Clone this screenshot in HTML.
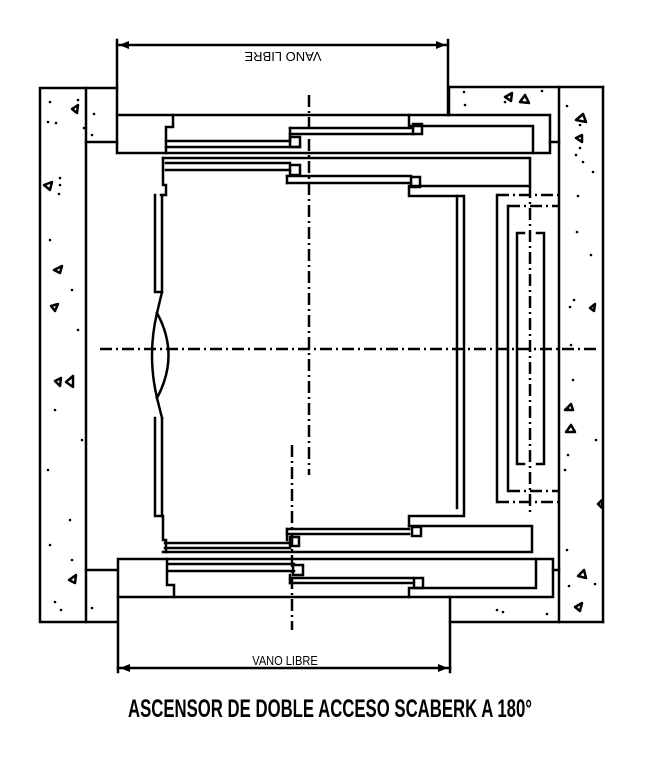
<!DOCTYPE html>
<html><head><meta charset="utf-8"><style>
html,body{margin:0;padding:0;background:#fff;}
svg{display:block;}
</style></head><body>
<svg width="657" height="760" viewBox="0 0 657 760" xmlns="http://www.w3.org/2000/svg">
<g fill="none" stroke="#000" stroke-width="2.5" stroke-linecap="square">
<!-- left wall -->
<rect x="40" y="88" width="46" height="534"/>
<line x1="86" y1="142" x2="117" y2="142"/>
<line x1="86" y1="570" x2="117" y2="570"/>
<line x1="86" y1="88" x2="117" y2="88"/>
<line x1="86" y1="622" x2="117" y2="622"/>
<!-- right wall -->
<line x1="449" y1="87" x2="603" y2="87"/>
<line x1="603" y1="87" x2="603" y2="622"/>
<line x1="559" y1="87" x2="559" y2="622"/>
<line x1="449" y1="87" x2="449" y2="115"/>
<line x1="450" y1="622" x2="603" y2="622"/>
<line x1="550" y1="142" x2="559" y2="142"/>
<line x1="553" y1="570" x2="559" y2="570"/>
<!-- top dimension -->
<line x1="117" y1="40" x2="117" y2="115"/>
<line x1="448" y1="40" x2="448" y2="115"/>
<line x1="117" y1="45" x2="448" y2="45"/>
<!-- top landing rect -->
<rect x="117" y="115" width="433" height="38"/>
<polyline points="173,115 173,127 166,127 166,153"/>
<polyline points="409,115 409,126 533,126 533,153"/>
<line x1="166" y1="141" x2="290" y2="141"/>
<line x1="166" y1="147" x2="300" y2="147"/>
<rect x="290" y="137" width="10" height="10"/>
<line x1="290" y1="128" x2="413" y2="128"/>
<line x1="290" y1="134" x2="413" y2="134"/>
<line x1="290" y1="128" x2="290" y2="141"/>
<rect x="413" y="124" width="9" height="10"/>
<!-- top car door assembly -->
<polyline points="163,158 530,158 530,186 412,186"/>
<polyline points="163,158 163,185 166,185 166,195 161,195"/>
<line x1="166" y1="163" x2="290" y2="163"/>
<line x1="166" y1="170" x2="290" y2="170"/>
<rect x="290" y="165" width="10" height="10"/>
<line x1="287" y1="176" x2="411" y2="176"/>
<line x1="287" y1="183" x2="411" y2="183"/>
<line x1="287" y1="176" x2="287" y2="183"/>
<rect x="411" y="177" width="9" height="10"/>
<polyline points="409,186 409,196 457,196 457,508"/>
<polyline points="457,196 464,196 464,516 409,516 409,526"/>
<!-- car left wall -->
<polyline points="155,195 155,292 162,292 162,195"/>
<polyline points="162,292 157,313"/>
<path d="M157,313 Q147,355 157,398"/>
<path d="M157,313 Q180,355 157,398"/>
<polyline points="157,398 162,418"/>
<polyline points="155,418 155,516 162,516 162,418"/>
<!-- bottom car assembly -->
<polyline points="162,516 163,516 163,540 166,540 166,552"/>
<polyline points="409,526 532,526 532,552 163,552"/>
<line x1="287" y1="529" x2="409" y2="529"/>
<line x1="287" y1="534" x2="409" y2="534"/>
<line x1="287" y1="529" x2="287" y2="540"/>
<rect x="412" y="527" width="9" height="9"/>
<line x1="165" y1="543" x2="290" y2="543"/>
<line x1="165" y1="548" x2="290" y2="548"/>
<rect x="290" y="537" width="9" height="9"/>
<!-- bottom landing rect -->
<rect x="118" y="559" width="435" height="38"/>
<polyline points="167,559 167,585 174,585 174,597"/>
<polyline points="409,597 409,588 536,588 536,559"/>
<line x1="168" y1="564" x2="294" y2="564"/>
<line x1="168" y1="571" x2="294" y2="571"/>
<rect x="293" y="565" width="10" height="10"/>
<line x1="290" y1="578" x2="413" y2="578"/>
<line x1="290" y1="583" x2="413" y2="583"/>
<line x1="290" y1="575" x2="290" y2="583"/>
<rect x="414" y="578" width="9" height="10"/>
<!-- bottom dimension -->
<line x1="118" y1="597" x2="118" y2="672"/>
<line x1="450" y1="597" x2="450" y2="672"/>
<line x1="118" y1="668" x2="450" y2="668"/>
<!-- counterweight -->
<line x1="497" y1="195" x2="497" y2="502"/>
<line x1="508" y1="206" x2="508" y2="491"/>
<polyline points="524,233 517,233 517,464 524,464"/>
<polyline points="537,233 544,233 544,464 537,464"/>
</g>
<g fill="none" stroke="#000" stroke-width="2.5" stroke-dasharray="12,4,2,4">
<line x1="497" y1="195" x2="559" y2="195"/>
<line x1="497" y1="502" x2="559" y2="502"/>
<line x1="508" y1="206" x2="559" y2="206"/>
<line x1="508" y1="491" x2="559" y2="491"/>
<line x1="530" y1="186" x2="530" y2="512"/>
<line x1="100" y1="349" x2="600" y2="349"/>
<line x1="309" y1="95" x2="309" y2="475"/>
<line x1="292" y1="445" x2="292" y2="630"/>
</g>
<!-- arrows -->
<g fill="#000">
<polygon points="119,45 129,41 129,49"/>
<polygon points="446,45 436,41 436,49"/>
<polygon points="120,668 130,664 130,672"/>
<polygon points="448,668 438,664 438,672"/>
</g>
<!-- concrete hatch -->
<g fill="#000">
<circle cx="50" cy="102" r="1.3"/><circle cx="78" cy="100" r="1.3"/><circle cx="48" cy="122" r="1.3"/><circle cx="56" cy="123" r="1.3"/><circle cx="94" cy="114" r="1.3"/><circle cx="84" cy="128" r="1.3"/><circle cx="92" cy="135" r="1.3"/><circle cx="60" cy="178" r="1.3"/><circle cx="60" cy="185" r="1.3"/><circle cx="59" cy="194" r="1.3"/><circle cx="50" cy="240" r="1.3"/><circle cx="72" cy="290" r="1.3"/><circle cx="78" cy="330" r="1.3"/><circle cx="55" cy="410" r="1.3"/><circle cx="82" cy="440" r="1.3"/><circle cx="48" cy="470" r="1.3"/><circle cx="70" cy="520" r="1.3"/><circle cx="50" cy="545" r="1.3"/><circle cx="72" cy="560" r="1.3"/><circle cx="92" cy="608" r="1.3"/><circle cx="61" cy="610" r="1.3"/><circle cx="55" cy="602" r="1.3"/>
<circle cx="464" cy="92" r="1.3"/><circle cx="465" cy="105" r="1.3"/><circle cx="505" cy="102" r="1.3"/><circle cx="542" cy="91" r="1.3"/><circle cx="567" cy="106" r="1.3"/><circle cx="580" cy="125" r="1.3"/><circle cx="580" cy="148" r="1.3"/><circle cx="576" cy="155" r="1.3"/><circle cx="583" cy="162" r="1.3"/><circle cx="593" cy="172" r="1.3"/><circle cx="578" cy="196" r="1.3"/><circle cx="577" cy="232" r="1.3"/><circle cx="591" cy="255" r="1.3"/><circle cx="574" cy="300" r="1.3"/><circle cx="570" cy="307" r="1.3"/><circle cx="571" cy="345" r="1.3"/><circle cx="573" cy="380" r="1.3"/><circle cx="568" cy="408" r="1.3"/><circle cx="568" cy="455" r="1.3"/><circle cx="565" cy="470" r="1.3"/><circle cx="596" cy="440" r="1.3"/><circle cx="567" cy="550" r="1.3"/><circle cx="595" cy="584" r="1.3"/><circle cx="569" cy="586" r="1.3"/><circle cx="497" cy="610" r="1.3"/><circle cx="503" cy="612" r="1.3"/><circle cx="547" cy="614" r="1.3"/><circle cx="521" cy="102" r="1.3"/>
</g>
<g fill="none" stroke="#000" stroke-width="2.5" stroke-linejoin="round">
<polygon points="72,109 78,105 77,113"/>
<polygon points="44,185 52,182 50,190"/>
<polygon points="54,270 62,266 60,273"/>
<polygon points="51,306 58,304 55,311"/>
<polygon points="55,381 61,378 60,386"/>
<polygon points="66,382 73,376 73,387"/>
<polygon points="69,580 76,575 75,583"/>
<polygon points="505,97 512,93 511,101"/>
<polygon points="520,102 525,95 529,103"/>
<polygon points="576,120 583,114 586,122"/>
<polygon points="576,138 582,135 582,142"/>
<polygon points="565,410 571,404 573,410"/>
<polygon points="566,432 571,425 575,432"/>
<polygon points="578,576 584,570 586,578"/>
<polygon points="575,607 582,603 580,611"/>
<polygon points="590,308 595,304 594,311"/>
<polygon points="598,504 602,500 602,508"/>
</g>
<!-- labels -->
<text x="283" y="48" font-family="Liberation Sans, sans-serif" font-size="13" text-anchor="middle" transform="rotate(180 283 50)">VANO LIBRE</text>
<text x="285" y="665" font-family="Liberation Sans, sans-serif" font-size="13" text-anchor="middle" transform="translate(285 0) scale(0.85 1) translate(-285 0)">VANO LIBRE</text>
<text x="128" y="717" font-family="Liberation Sans, sans-serif" font-size="25" font-weight="bold" textLength="404" lengthAdjust="spacingAndGlyphs">ASCENSOR DE DOBLE ACCESO SCABERK A 180°</text>
</svg>
</body></html>
